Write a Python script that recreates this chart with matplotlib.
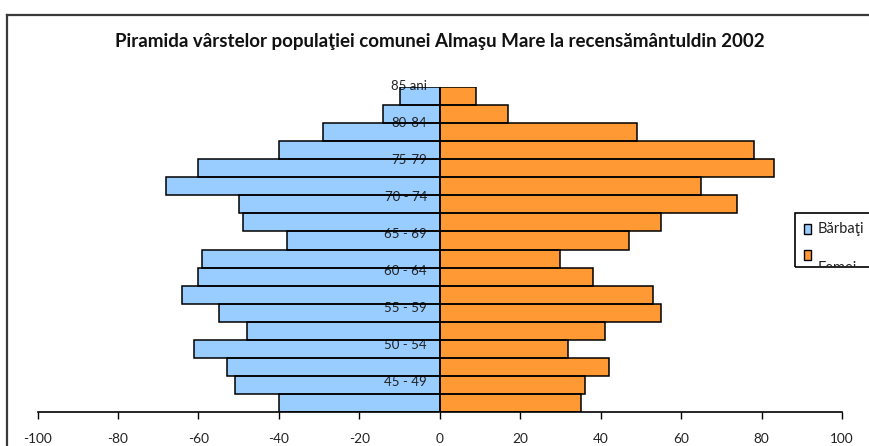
import matplotlib
matplotlib.use("Agg")
import matplotlib.pyplot as plt
from matplotlib.patches import Rectangle
from matplotlib.lines import Line2D

# ---- data (bottom bar first) ----
barbati = [-40, -51, -53, -61, -48, -55, -64, -60, -59, -38, -49, -50, -68, -60, -40, -29, -14, -10]
femei = [35, 36, 42, 32, 41, 55, 53, 38, 30, 47, 55, 74, 65, 83, 78, 49, 17, 9]
age_labels = ["45 - 49", "50 - 54", "55 - 59", "60 - 64", "65 - 69", "70 - 74", "75-79", "80-84", "85 ani"]
x_ticks = [-100, -80, -60, -40, -20, 0, 20, 40, 60, 80, 100]
series_names = ["Bărbaţi", "Femei"]
title = "Piramida vârstelor populaţiei comunei Almaşu Mare la recensământuldin 2002"

BLUE = "#99CCFF"
ORANGE = "#FF9933"

W, H = 869, 446
fig = plt.figure(figsize=(W / 100, H / 100), dpi=100)
plt.rcParams["font.family"] = ["Lato", "DejaVu Sans"]

def fx(px):
    return px / W

def fy(py):
    return 1 - py / H

# chart border (top + left visible)
fig.add_artist(Line2D([fx(7.5), 1.0], [fy(14.5), fy(14.5)], transform=fig.transFigure, color="#3a3a3a", lw=1.6))
fig.add_artist(Line2D([fx(7.5), fx(7.5)], [fy(14.5), 0.0], transform=fig.transFigure, color="#3a3a3a", lw=1.6))

left_px, right_px, top_px, bot_px = 37.5, 842.0, 87.0, 412.0
ax = fig.add_axes([fx(left_px), fy(bot_px), (right_px - left_px) / W, (bot_px - top_px) / H])

ypos = list(range(len(barbati)))
ax.barh(ypos, barbati, height=1.0, color=BLUE, edgecolor="none", zorder=1)
ax.barh(ypos, femei, height=1.0, color=ORANGE, edgecolor="none", zorder=1)
ax.barh(ypos, barbati, height=1.0, fill=False, edgecolor="black", lw=1.1, zorder=3)
ax.barh(ypos, femei, height=1.0, fill=False, edgecolor="black", lw=1.1, zorder=3)

# category labels drawn over the bars
start, step = 1.18, 2.05
for k, lab in enumerate(age_labels):
    ax.text(-3.2, start + step * k, lab, ha="right", va="center", fontsize=9.5,
            color="#222222", zorder=2, clip_on=False)

ax.set_xlim(-100, 100)
ax.set_ylim(-0.5, len(barbati) - 0.5)
ax.set_xticks(x_ticks)
ax.set_xticklabels([str(t) for t in x_ticks], fontsize=9.8, color="#222222")
ax.tick_params(axis="x", direction="out", length=5, width=1.0, pad=10)
ax.set_yticks([])
for s in ["left", "top", "right"]:
    ax.spines[s].set_visible(False)
ax.spines["bottom"].set_linewidth(1.2)
ax.spines["bottom"].set_zorder(4)

# title
fig.text(fx(440), fy(42), title, ha="center", va="center", fontsize=13.5, fontweight="bold", color="#111111")

# legend (clipped box)
box = Rectangle((fx(795), fy(267)), fx(869 - 795 + 10), (267 - 212.7) / H, transform=fig.transFigure,
                fill=False, edgecolor="black", lw=1.2)
fig.add_artist(box)
fig.add_artist(Rectangle((fx(804), fy(234)), fx(7), 10 / H, transform=fig.transFigure,
                         facecolor=BLUE, edgecolor="black", lw=1.0))
fig.add_artist(Rectangle((fx(804), fy(260)), fx(7), 10 / H, transform=fig.transFigure,
                         facecolor=ORANGE, edgecolor="black", lw=1.0))
fig.text(fx(818), fy(229), series_names[0], ha="left", va="center", fontsize=10.5, color="#222222")
t2 = fig.text(fx(818), fy(268), series_names[1], ha="left", va="center", fontsize=10.5, color="#222222")
clip = Rectangle((fx(795), fy(267)), fx(100), (267 - 212.7) / H, transform=fig.transFigure)
t2.set_clip_path(clip)

fig.savefig("out.png", dpi=100)
